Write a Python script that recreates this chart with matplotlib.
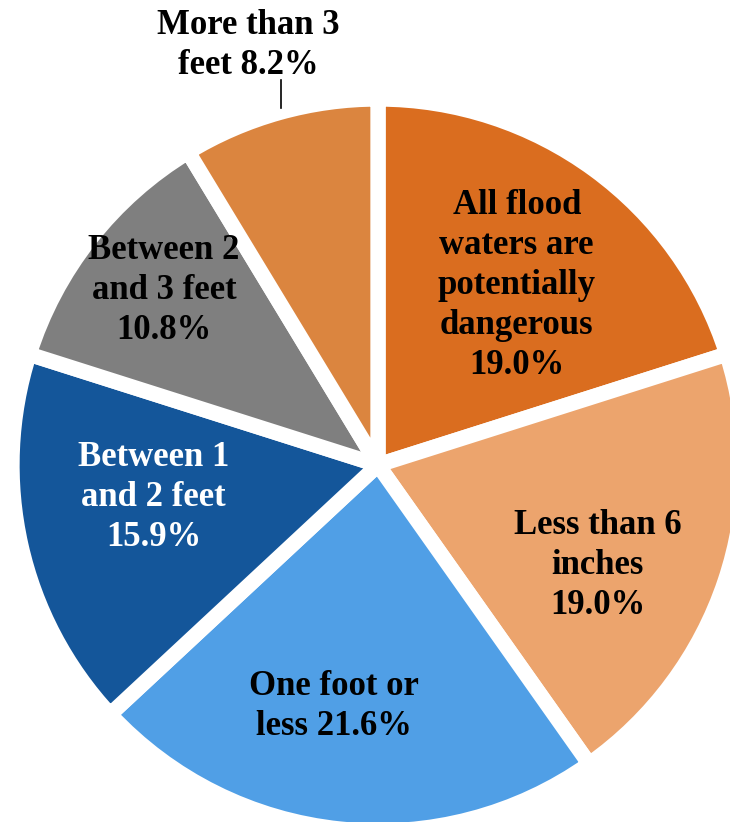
import matplotlib
matplotlib.use("Agg")
import matplotlib.pyplot as plt
import numpy as np

labels = ["All flood\nwaters are\npotentially\ndangerous\n19.0%",
          "Less than 6\ninches\n19.0%",
          "One foot or\nless 21.6%",
          "Between 1\nand 2 feet\n15.9%",
          "Between 2\nand 3 feet\n10.8%",
          "More than 3\nfeet 8.2%"]
values = [19.0, 19.0, 21.6, 15.9, 10.8, 8.2]
colors = ["#DA6D1F", "#ECA46D", "#509FE6", "#14569A", "#7F7F7F", "#DB853F"]
text_colors = ["black", "black", "black", "white", "black", "black"]

# label placement (style): radial distance (fraction of radius) and angle offset (deg)
label_dist = [0.62, 0.66, 0.67, 0.62, 0.755, 1.20]
label_dang = [-1.5, -6.0, -4.5, -4.5, -1.0, 1.5]

W, H = 730, 822
cx, cy, R = 378, 465, 366  # pixels from top-left

fig = plt.figure(figsize=(W / 100, H / 100), dpi=100)
ax = fig.add_axes([0, 0, 1, 1])

wedges, _ = ax.pie(values, colors=colors, startangle=90, counterclock=False,
                   radius=1.0, center=(0, 0),
                   wedgeprops=dict(edgecolor="white", linewidth=11,
                                   joinstyle="round"))
for w in wedges:
    w.set_clip_on(False)

ax.set_xlim(-cx / R, (W - cx) / R)
ax.set_ylim(-(H - cy) / R, cy / R)
ax.set_aspect("equal")
ax.axis("off")

font = dict(family="Liberation Serif", fontweight="bold", fontsize=25)
for i, w in enumerate(wedges):
    ang = np.deg2rad((w.theta1 + w.theta2) / 2 + label_dang[i])
    d = label_dist[i]
    x, y = d * np.cos(ang), d * np.sin(ang)
    ax.text(x, y, labels[i], ha="center", va="center", color=text_colors[i],
            linespacing=1.28, **font)
    if i == len(wedges) - 1:
        ex = -97 / R
        ax.plot([ex, ex], [0.975, 1.052], color="black", lw=1.2,
                clip_on=False)

fig.savefig("out.png", dpi=100)
